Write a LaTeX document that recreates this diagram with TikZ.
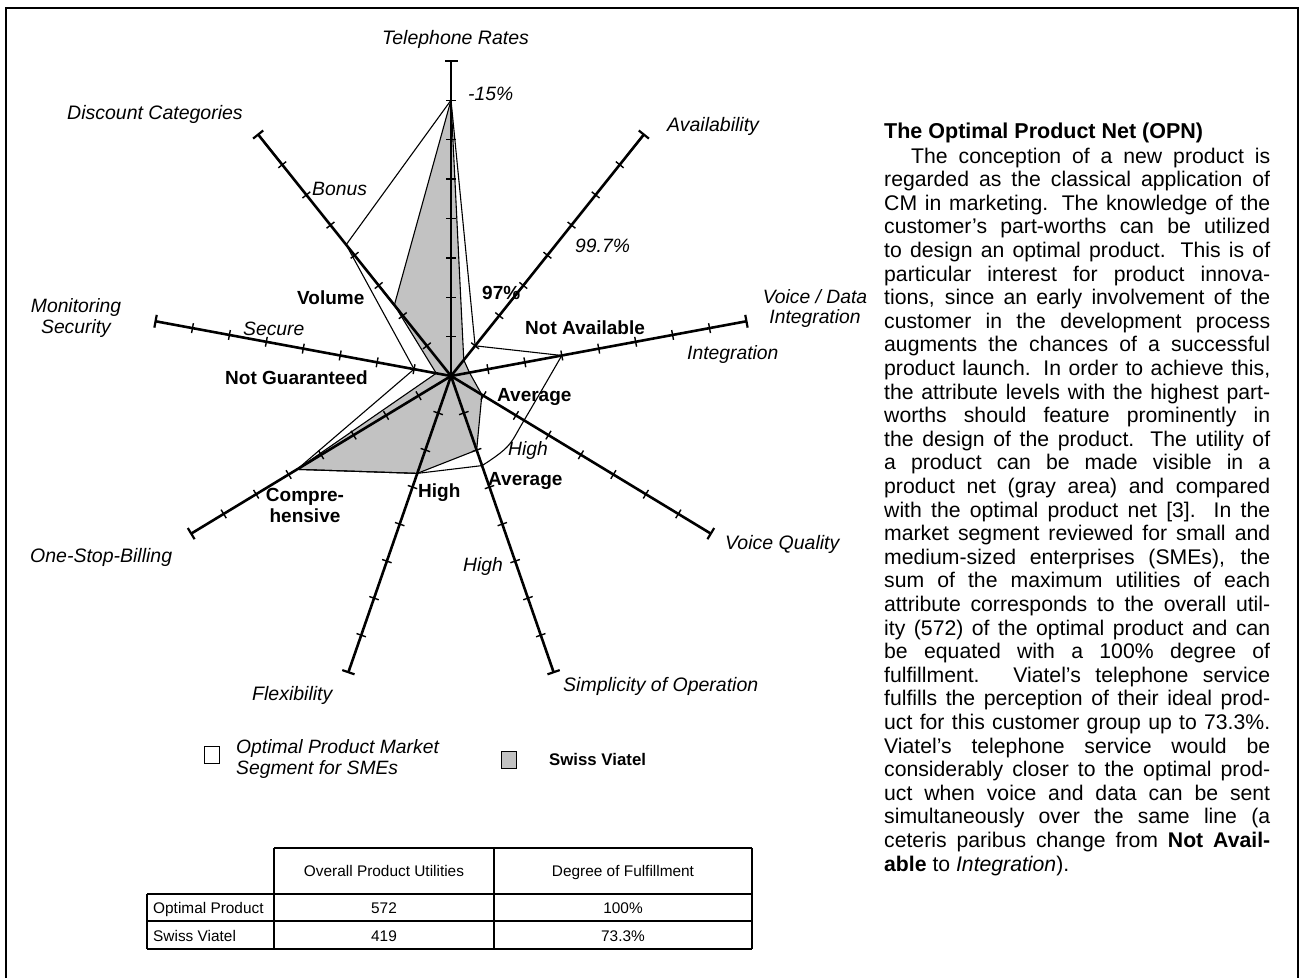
\documentclass[tikz,border=0pt]{standalone}
\usepackage{fontspec}
\setmainfont{Liberation Sans}
\usetikzlibrary{calc}
\begin{document}
\begin{tikzpicture}[x=1pt,y=-1pt]
\tikzset{
  axisline/.style={line width=2.6pt},
  tickmark/.style={line width=1.4pt},
  capmark/.style={line width=2.2pt},
  netline/.style={line width=1.1pt, line join=round},
  netfill/.style={fill=black!24},
  axtitle/.style={font=\fontsize{19.5}{22}\selectfont\itshape, anchor=base west, inner sep=0pt},
  lvlit/.style={font=\fontsize{19.3}{22}\selectfont\itshape, anchor=base west, inner sep=0pt},
  lvlbf/.style={font=\fontsize{19}{22}\selectfont\bfseries, anchor=base west, inner sep=0pt},
  bodyline/.style={font=\fontsize{21.2}{24}\selectfont, anchor=base west, inner sep=0pt},
  titletext/.style={font=\fontsize{21.5}{26}\selectfont\bfseries, anchor=base west, inner sep=0pt},
  legit/.style={font=\fontsize{19.3}{21}\selectfont\itshape, anchor=base west, inner sep=0pt},
  legbf/.style={font=\fontsize{16.8}{19}\selectfont\bfseries, anchor=base west, inner sep=0pt},
  legbox/.style={draw, line width=1pt, minimum width=15pt, minimum height=17pt, inner sep=0pt},
  tabtext/.style={font=\fontsize{15.4}{19}\selectfont, anchor=base, inner sep=0pt},
  tabtextl/.style={font=\fontsize{15.4}{19}\selectfont, anchor=base west, inner sep=0pt},
  tabrule/.style={line width=1.3pt},
  frameline/.style={line width=2pt},
}
\useasboundingbox (0,0) rectangle (1301,978);
\fill[white] (0,0) rectangle (1301,978);

% frame
\draw[frameline] (6,978) -- (6,8) -- (1298,8) -- (1298,978);

% centre and axis ends
\coordinate (C) at (451,376);
\foreach \n/\a in {tel/90, ava/50, vd/10, vq/-30, sim/-70, fle/-110, osb/-150, mon/170, dis/130}{
  \coordinate (\n) at ({451+37.5*8*cos(\a)},{376-39.4*8*sin(\a)});
}
% optimal product vertices
\foreach \n/\a/\r in {o1/90/7, o2/50/1, o3/10/3, o4/-30/2.25, o5/-70/2.42, o6/-110/2.63, o7/-150/4.74, o8/170/1, o9/130/4.35}{
  \coordinate (\n) at ({451+37.5*\r*cos(\a)},{376-39.4*\r*sin(\a)});
}
% Swiss Viatel vertices
\foreach \n/\a/\r in {g1/90/7, g2/50/0.53, g3/10/0.5, g4/-30/0.95, g5/-70/2, g6/-110/2.63, g7/-150/4.74, g8/170/0.4, g9/130/2.35}{
  \coordinate (\n) at ({451+37.5*\r*cos(\a)},{376-39.4*\r*sin(\a)});
}
\coordinate (k2) at (507,447);

% Swiss Viatel net (gray)
\fill[netfill] (g1) -- (g2) -- (g3) -- (g4) -- (g5) -- (g6) -- (g7) -- (g8) -- (g9) -- cycle;
\draw[netline] (g1) -- (g2) -- (g3) -- (g4) -- (g5) -- (g6) -- (g7) -- (g8) -- (g9) -- cycle;

% optimal net
\draw[netline] (o3) -- (o2) -- (o1) -- (o9) -- (o8) -- (o7) -- (o6) -- (o5);
\draw[netline] plot[smooth, tension=0.6] coordinates {(o3) (o4) (k2) (o5)};

% axes with ticks
\foreach \n in {tel, ava, vd, vq, sim, fle, osb, mon, dis}{
  \draw[axisline] (C) -- (\n);
  \foreach \t in {1,...,7}{
    \pgfmathsetmacro\f{\t/8}
    \coordinate (p) at ($(C)!\f!(\n)$);
    \draw[tickmark] ($(p)!5pt!90:(\n)$) -- ($(p)!5pt!-90:(\n)$);
  }
  \draw[capmark] ($(\n)!6.5pt!90:(C)$) -- ($(\n)!6.5pt!-90:(C)$);
}

% axis titles
\node[axtitle] (tTel) at (382,44) {Telephone Rates};
\node[axtitle] (tDis) at (67,119) {Discount Categories};
\node[axtitle] (tAva) at (667,131) {Availability};
\node[axtitle, align=center, anchor=north, font=\fontsize{19.3}{21}\selectfont\itshape] (tMon) at (76,298) {Monitoring\\Security};
\node[axtitle, align=center, anchor=north, font=\fontsize{19.3}{20}\selectfont\itshape] (tVD) at (815,289) {Voice / Data\\Integration};
\node[axtitle] (tVQ) at (725,549) {Voice Quality};
\node[axtitle] (tOSB) at (30,562) {One-Stop-Billing};
\node[axtitle] (tSim) at (563,691) {Simplicity of Operation};
\node[axtitle] (tFle) at (252,700) {Flexibility};

% level labels
\node[lvlit] (l15) at (468,100) {-15\%};
\node[lvlit] (lBon) at (312,195) {Bonus};
\node[lvlit] (l997) at (575,252) {99.7\%};
\node[lvlbf] (l97) at (482,299) {97\%};
\node[lvlbf] (lVol) at (297,304) {Volume};
\node[lvlit] (lSec) at (243,335) {Secure};
\node[lvlbf] (lNA) at (525,334) {Not Available};
\node[lvlit] (lInt) at (687,359) {Integration};
\node[lvlbf] (lNG) at (225,384) {Not Guaranteed};
\node[lvlbf] (lAv1) at (497,401) {Average};
\node[lvlit] (lHi1) at (508,455) {High};
\node[lvlbf] (lAv2) at (488,485) {Average};
\node[lvlbf] (lHi2) at (418,497) {High};
\node[lvlbf, align=center, anchor=north, font=\fontsize{19}{21}\selectfont\bfseries] (lCom) at (305,488) {Compre-\\hensive};
\node[lvlit] (lHi3) at (463,571) {High};

% legend
\node[legbox] (lb1) at (211.5,755) {};
\node[legit] (lt1) at (236,753) {Optimal Product Market};
\node[legit] (lt2) at (236,774) {Segment for SMEs};
\node[legbox, fill=black!24] (lb2) at (508.5,760) {};
\node[legbf] (lt3) at (549,765) {Swiss Viatel};

% table
\draw[tabrule] (274,848) -- (752,848);
\draw[tabrule] (147,894) -- (752,894);
\draw[tabrule] (147,921) -- (752,921);
\draw[tabrule] (147,949) -- (752,949);
\draw[tabrule] (147,894) -- (147,949);
\draw[tabrule] (274,848) -- (274,949);
\draw[tabrule] (494,848) -- (494,949);
\draw[tabrule] (752,848) -- (752,949);
\node[tabtext] (h1) at (384,876) {Overall Product Utilities};
\node[tabtext] (h2) at (623,876) {Degree of Fulfillment};
\node[tabtextl] (r1) at (153,913) {Optimal Product};
\node[tabtext] (r1a) at (384,913) {572};
\node[tabtext] (r1b) at (623,913) {100\%};
\node[tabtextl] (r2) at (153,941) {Swiss Viatel};
\node[tabtext] (r2a) at (384,941) {419};
\node[tabtext] (r2b) at (623,941) {73.3\%};

% right-hand text
\node[titletext] (ttl) at (884,138) {The Optimal Product Net (OPN)};
\node[bodyline] (b1) at (911,163) {\makebox[359pt][s]{The conception of a new product is}};
\node[bodyline] (b2) at (884,186.6) {\makebox[386pt][s]{regarded as the classical application of}};
\node[bodyline] (b3) at (884,210.2) {\makebox[386pt][s]{CM in marketing. The knowledge of the}};
\node[bodyline] (b4) at (884,233.8) {\makebox[386pt][s]{customer's part-worths can be utilized}};
\node[bodyline] (b5) at (884,257.4) {\makebox[386pt][s]{to design an optimal product. This is of}};
\node[bodyline] (b6) at (884,281) {\makebox[386pt][s]{particular interest for product innova-}};
\node[bodyline] (b7) at (884,304.6) {\makebox[386pt][s]{tions, since an early involvement of the}};
\node[bodyline] (b8) at (884,328.2) {\makebox[386pt][s]{customer in the development process}};
\node[bodyline] (b9) at (884,351.8) {\makebox[386pt][s]{augments the chances of a successful}};
\node[bodyline] (b10) at (884,375.4) {\makebox[386pt][s]{product launch. In order to achieve this,}};
\node[bodyline] (b11) at (884,399) {\makebox[386pt][s]{the attribute levels with the highest part-}};
\node[bodyline] (b12) at (884,422.6) {\makebox[386pt][s]{worths should feature prominently in}};
\node[bodyline] (b13) at (884,446.2) {\makebox[386pt][s]{the design of the product. The utility of}};
\node[bodyline] (b14) at (884,469.8) {\makebox[386pt][s]{a product can be made visible in a}};
\node[bodyline] (b15) at (884,493.4) {\makebox[386pt][s]{product net (gray area) and compared}};
\node[bodyline] (b16) at (884,517) {\makebox[386pt][s]{with the optimal product net [3]. In the}};
\node[bodyline] (b17) at (884,540.6) {\makebox[386pt][s]{market segment reviewed for small and}};
\node[bodyline] (b18) at (884,564.2) {\makebox[386pt][s]{medium-sized enterprises (SMEs), the}};
\node[bodyline] (b19) at (884,587.8) {\makebox[386pt][s]{sum of the maximum utilities of each}};
\node[bodyline] (b20) at (884,611.4) {\makebox[386pt][s]{attribute corresponds to the overall util-}};
\node[bodyline] (b21) at (884,635) {\makebox[386pt][s]{ity (572) of the optimal product and can}};
\node[bodyline] (b22) at (884,658.6) {\makebox[386pt][s]{be equated with a 100\% degree of}};
\node[bodyline] (b23) at (884,682.2) {\makebox[386pt][s]{fulfillment. Viatel's telephone service}};
\node[bodyline] (b24) at (884,705.8) {\makebox[386pt][s]{fulfills the perception of their ideal prod-}};
\node[bodyline] (b25) at (884,729.4) {\makebox[386pt][s]{uct for this customer group up to 73.3\%.}};
\node[bodyline] (b26) at (884,753) {\makebox[386pt][s]{Viatel's telephone service would be}};
\node[bodyline] (b27) at (884,776.6) {\makebox[386pt][s]{considerably closer to the optimal prod-}};
\node[bodyline] (b28) at (884,800.2) {\makebox[386pt][s]{uct when voice and data can be sent}};
\node[bodyline] (b29) at (884,823.8) {\makebox[386pt][s]{simultaneously over the same line (a}};
\node[bodyline] (b30) at (884,847.4) {\makebox[386pt][s]{ceteris paribus change from \textbf{Not Avail-}}};
\node[bodyline] (b31) at (884,871) {\textbf{able} to \textit{Integration}).};
\end{tikzpicture}
\end{document}
